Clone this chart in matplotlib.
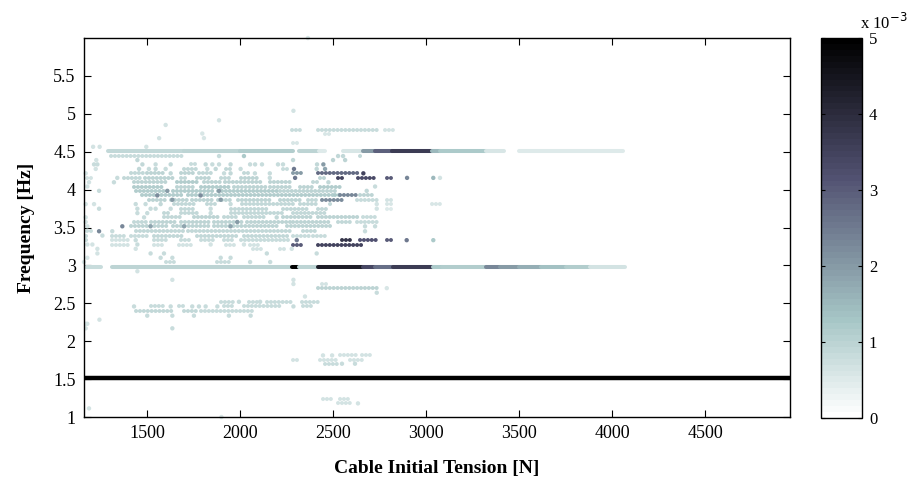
import matplotlib
matplotlib.use('Agg')
import matplotlib.pyplot as plt
from matplotlib.cm import ScalarMappable
from matplotlib.colors import Normalize
from matplotlib.ticker import FuncFormatter

plt.rcParams['font.family'] = ['Liberation Serif', 'DejaVu Serif']

# every entry: (frequency Hz, tension from N, tension to N, value x1e-3)
# a single point has the same start and end tension
band_450 = [(4.508, 1290, 1700, 0.9), (4.508, 1700, 2000, 1.0), (4.508, 2000, 2285, 1.1),
            (4.508, 2317, 2419, 1.0), (4.508, 2425, 2457, 0.5), (4.508, 2554, 2661, 0.6),
            (4.508, 2661, 2726, 2.0), (4.508, 2726, 2817, 2.9), (4.508, 2817, 3032, 3.6),
            (4.508, 3032, 3075, 1.5), (4.508, 3075, 3322, 1.2), (4.508, 3322, 3419, 0.6),
            (4.508, 3500, 4060, 0.5)]

band_300 = [(2.979, 1313, 2269, 1.0), (2.979, 2278, 2312, 5.0), (2.979, 2318, 2412, 1.0),
            (2.979, 2421, 2663, 4.3), (2.979, 2663, 2726, 3.4), (2.979, 2726, 2825, 2.7),
            (2.979, 2825, 3030, 3.6), (2.979, 3035, 3084, 1.2), (2.979, 3084, 3323, 1.1),
            (2.979, 3323, 3400, 2.3), (2.979, 3400, 3500, 2.0), (2.979, 3500, 3620, 1.7),
            (2.979, 3620, 3750, 1.4), (2.979, 3750, 3880, 1.1), (2.979, 3880, 4070, 0.7),
            (2.979, 1170, 1250, 0.8)]

band_152 = [(1.52, 1161, 4957, 5.0)]

cloud_upper = [
    (4.443, 1304, 1520, 0.8), (4.443, 1540, 1699, 0.8), (4.443, 1887, 1887, 0.8),
    (4.443, 2021, 2021, 1.2), (4.443, 2527, 2527, 0.9), (4.443, 2554, 2554, 0.9),
    (4.443, 2645, 2661, 0.9),
    (4.39, 1227, 1227, 0.7), (4.39, 1448, 1448, 0.9), (4.39, 2285, 2285, 0.9),
    (4.39, 2500, 2500, 1.0), (4.39, 2565, 2565, 1.0),
    (4.333, 1215, 1215, 0.8), (4.333, 1233, 1233, 0.8), (4.333, 1475, 1475, 0.9),
    (4.333, 1546, 1546, 0.8), (4.333, 1627, 1627, 0.9), (4.333, 1734, 1761, 0.8),
    (4.333, 1815, 1815, 0.9), (4.333, 1851, 1851, 0.8), (4.333, 1887, 1887, 0.8),
    (4.333, 1949, 1949, 0.9), (4.333, 2054, 2054, 0.8), (4.333, 2081, 2081, 0.8),
    (4.333, 2118, 2118, 0.8), (4.333, 2204, 2204, 0.8), (4.333, 2231, 2231, 0.8),
    (4.333, 2414, 2414, 0.9), (4.333, 2448, 2448, 2.0),
    (4.273, 1224, 1224, 0.7), (4.273, 1457, 1457, 0.9), (4.273, 1510, 1510, 0.8),
    (4.273, 1546, 1546, 0.9), (4.273, 1600, 1600, 0.8), (4.273, 1699, 1770, 0.9),
    (4.273, 1824, 1824, 0.8), (4.273, 1869, 1869, 0.9), (4.273, 1923, 1949, 0.9),
    (4.273, 2003, 2003, 0.8), (4.273, 2233, 2251, 0.8), (4.273, 2290, 2290, 2.5),
    (4.273, 2412, 2412, 0.9), (4.273, 2457, 2457, 1.8),
    (4.215, 1170, 1170, 0.7), (4.215, 1412, 1480, 0.9), (4.215, 1500, 1591, 1.0),
    (4.215, 1627, 1627, 0.9), (4.215, 1681, 1752, 1.0), (4.215, 1779, 1842, 0.9),
    (4.215, 1914, 1914, 0.8), (4.215, 1949, 1949, 0.9), (4.215, 2021, 2057, 0.9),
    (4.215, 2080, 2080, 0.8), (4.215, 2160, 2160, 0.8), (4.215, 2287, 2331, 2.0),
    (4.215, 2421, 2645, 2.8), (4.215, 2663, 2663, 3.5),
    (4.155, 1179, 1215, 0.7), (4.155, 1340, 1340, 0.8), (4.155, 1376, 1470, 0.9),
    (4.155, 1490, 1645, 1.0), (4.155, 1681, 1717, 0.9), (4.155, 1770, 1842, 1.0),
    (4.155, 1896, 1949, 0.9), (4.155, 2003, 2108, 1.0), (4.155, 2160, 2160, 0.8),
    (4.155, 2296, 2296, 2.5), (4.155, 2430, 2466, 1.0), (4.155, 2527, 2565, 3.5),
    (4.155, 2634, 2735, 3.3), (4.155, 2788, 2824, 3.0), (4.155, 2898, 2898, 2.3),
    (4.155, 3039, 3039, 1.5), (4.155, 3075, 3075, 0.7),
    (4.097, 1188, 1188, 0.7), (4.097, 1322, 1322, 0.8), (4.097, 1430, 1609, 1.0),
    (4.097, 1663, 1770, 1.1), (4.097, 1806, 1900, 1.0), (4.097, 1920, 2110, 1.0),
    (4.097, 2160, 2269, 1.0), (4.097, 2394, 2412, 0.9), (4.097, 2475, 2475, 0.9),
    (4.041, 1179, 1179, 0.7), (4.041, 1430, 1591, 1.1), (4.041, 1663, 1752, 1.0),
    (4.041, 1788, 1950, 1.1), (4.041, 1970, 2140, 1.0), (4.041, 2160, 2287, 1.0),
    (4.041, 2323, 2394, 1.0), (4.041, 2430, 2555, 1.1), (4.041, 2726, 2726, 0.8),
]

cloud_middle = [
    (3.984, 1242, 1242, 0.8), (3.984, 1439, 1620, 1.1), (3.984, 1640, 1860, 1.1),
    (3.984, 1880, 2200, 1.1), (3.984, 2215, 2448, 1.0), (3.984, 2466, 2520, 1.0),
    (3.984, 2681, 2681, 0.9), (3.984, 1609, 1609, 2.0), (3.984, 1887, 1887, 2.0),
    (3.923, 1475, 1700, 1.1), (3.923, 1720, 2502, 1.1), (3.923, 2511, 2536, 1.2),
    (3.923, 2538, 2636, 2.3), (3.923, 2645, 2726, 1.0), (3.923, 1555, 1555, 2.2),
    (3.923, 1788, 1788, 2.2),
    (3.866, 1510, 1600, 1.0), (3.866, 1630, 1720, 1.0), (3.866, 1740, 1860, 1.0),
    (3.866, 1880, 1960, 1.0), (3.866, 1990, 2160, 1.0), (3.866, 2215, 2323, 1.0),
    (3.866, 2367, 2412, 0.9), (3.866, 2439, 2547, 2.2), (3.866, 2627, 2735, 0.8),
    (3.866, 2788, 2824, 0.7), (3.866, 1636, 1636, 2.0), (3.866, 1896, 1896, 2.0),
    (3.809, 1170, 1170, 0.7), (3.809, 1215, 1215, 0.7), (3.809, 1439, 1439, 0.8),
    (3.809, 1492, 1492, 0.8), (3.809, 1573, 1573, 0.9), (3.809, 1645, 1752, 0.9),
    (3.809, 1824, 1878, 0.9), (3.809, 1949, 1949, 0.8), (3.809, 2012, 2287, 0.9),
    (3.809, 2323, 2412, 0.9), (3.809, 2484, 2502, 0.9), (3.809, 2735, 2735, 0.7),
    (3.809, 2788, 2824, 0.6), (3.809, 3030, 3084, 0.6),
    (3.748, 1242, 1242, 0.8), (3.748, 1448, 1448, 0.8), (3.748, 1519, 1519, 0.8),
    (3.748, 1546, 1546, 0.8), (3.748, 1627, 1627, 0.8), (3.748, 1681, 1752, 0.9),
    (3.748, 1842, 1842, 0.8), (3.748, 1949, 2162, 0.9), (3.748, 2233, 2377, 0.9),
    (3.748, 2421, 2475, 0.9), (3.748, 2735, 2735, 0.7), (3.748, 2789, 2825, 0.5),
    (3.69, 1448, 1448, 0.8), (3.69, 1501, 1501, 0.8), (3.69, 1591, 1627, 0.9),
    (3.69, 1681, 1770, 0.9), (3.69, 1842, 1842, 0.8), (3.69, 1949, 2233, 0.9),
    (3.69, 2287, 2466, 0.9),
    (3.634, 1170, 1170, 0.7), (3.634, 1484, 1484, 0.8), (3.634, 1591, 1681, 0.9),
    (3.634, 1752, 1896, 1.0), (3.634, 1914, 1985, 0.9), (3.634, 2021, 2144, 0.9),
    (3.634, 2197, 2197, 0.9), (3.634, 2233, 2394, 1.0), (3.634, 2421, 2645, 1.0),
    (3.634, 2663, 2735, 0.8),
    (3.573, 1170, 1170, 0.7), (3.573, 1430, 1501, 0.9), (3.573, 1519, 1663, 1.0),
    (3.573, 1681, 1842, 1.0), (3.573, 1860, 2021, 1.0), (3.573, 2039, 2269, 1.0),
    (3.573, 2287, 2484, 1.0), (3.573, 2528, 2592, 0.9), (3.573, 2627, 2735, 0.8),
    (3.573, 1985, 1985, 2.0),
]

cloud_lower = [
    (3.516, 1179, 1179, 0.7), (3.516, 1367, 1367, 2.3), (3.516, 1412, 1620, 1.0),
    (3.516, 1640, 1840, 1.0), (3.516, 1860, 2215, 1.0), (3.516, 2251, 2484, 1.0),
    (3.516, 2672, 2672, 0.8), (3.516, 2726, 2726, 0.8), (3.516, 1519, 1519, 1.8),
    (3.516, 1699, 1699, 1.8), (3.516, 1949, 1949, 1.8),
    (3.451, 1179, 1197, 0.8), (3.451, 1242, 1242, 2.3), (3.451, 1313, 1313, 0.8),
    (3.451, 1439, 1700, 0.9), (3.451, 1720, 2287, 0.9), (3.451, 2341, 2412, 0.9),
    (3.451, 2672, 2672, 0.8),
    (3.394, 1170, 1188, 0.8), (3.394, 1260, 1260, 0.8), (3.394, 1313, 1376, 0.8),
    (3.394, 1412, 1501, 0.8), (3.394, 1537, 1699, 0.9), (3.394, 1770, 1985, 0.9),
    (3.394, 2021, 2269, 0.9), (3.394, 2287, 2377, 0.8), (3.394, 2394, 2466, 0.8),
    (3.333, 1170, 1188, 0.8), (3.333, 1313, 1412, 0.7), (3.333, 1439, 1439, 0.8),
    (3.333, 1537, 1609, 0.8), (3.333, 1681, 1734, 0.8), (3.333, 1788, 1860, 0.8),
    (3.333, 1914, 1967, 0.8), (3.333, 2003, 2260, 0.8), (3.333, 2305, 2305, 2.5),
    (3.333, 2547, 2591, 3.8), (3.333, 2645, 2735, 3.2), (3.333, 2788, 2824, 3.0),
    (3.333, 2896, 2896, 2.5), (3.333, 3039, 3039, 1.2),
    (3.276, 1179, 1179, 0.7), (3.276, 1206, 1206, 0.7), (3.276, 1313, 1412, 0.7),
    (3.276, 1448, 1448, 0.8), (3.276, 1537, 1591, 0.7), (3.276, 1672, 1734, 0.7),
    (3.276, 1842, 1842, 0.7), (3.276, 1923, 1967, 0.7), (3.276, 2021, 2021, 0.7),
    (3.276, 2054, 2108, 0.7), (3.276, 2287, 2331, 3.0), (3.276, 2421, 2663, 3.5),
    (3.219, 1233, 1233, 0.7), (3.219, 1439, 1439, 0.7), (3.219, 2072, 2126, 0.7),
    (3.219, 2215, 2251, 0.7), (3.219, 2278, 2278, 0.7),
    (3.158, 1233, 1233, 0.7), (3.158, 1519, 1519, 0.8), (3.158, 1591, 1591, 0.8),
    (3.158, 2144, 2144, 0.8), (3.158, 2412, 2412, 0.8),
    (3.101, 1179, 1179, 0.6), (3.101, 1573, 1573, 0.8), (3.101, 1636, 1636, 0.8),
    (3.101, 1896, 1896, 0.8), (3.101, 1949, 1949, 0.8),
    (3.045, 1161, 1161, 0.6), (3.045, 1600, 1663, 0.8), (3.045, 1878, 1949, 0.8),
    (3.045, 2054, 2054, 0.8), (3.045, 2162, 2162, 0.8),
]

low_bands = [
    (2.923, 1448, 1448, 0.7), (2.81, 1636, 1636, 0.7), (2.81, 2287, 2287, 0.7),
    (2.755, 2287, 2287, 0.7), (2.755, 2439, 2466, 0.7), (2.70, 2421, 2735, 1.0),
    (2.70, 2789, 2789, 0.6), (2.64, 2735, 2735, 0.8), (2.59, 2349, 2349, 0.7),
    (2.52, 1896, 1967, 0.8), (2.52, 1994, 1994, 0.8), (2.52, 2048, 2090, 0.8),
    (2.52, 2108, 2108, 0.8), (2.52, 2144, 2287, 0.8), (2.52, 2332, 2421, 0.8),
    (2.459, 1430, 1430, 0.8), (2.459, 1519, 1591, 0.8), (2.459, 1627, 1627, 0.8),
    (2.459, 1672, 1699, 0.8), (2.459, 1743, 1743, 0.8), (2.459, 1779, 1779, 0.8),
    (2.459, 1815, 1815, 0.8), (2.459, 1878, 1878, 0.8), (2.459, 1914, 1967, 0.8),
    (2.459, 2021, 2215, 0.8), (2.459, 2287, 2287, 0.8), (2.459, 2341, 2394, 0.8),
    (2.398, 1439, 1645, 0.9), (2.398, 1699, 1770, 0.9), (2.398, 1788, 2081, 0.8),
    (2.337, 1501, 1501, 0.8), (2.337, 1636, 1636, 0.8), (2.337, 1752, 1752, 0.8),
    (2.337, 1940, 1940, 0.8), (2.337, 2057, 2057, 0.8),
    (1.813, 2446, 2446, 0.7), (1.813, 2495, 2495, 0.7), (1.813, 2538, 2635, 0.7),
    (1.813, 2656, 2710, 0.7), (1.756, 2285, 2312, 0.7), (1.756, 2430, 2522, 0.7),
    (1.756, 2591, 2661, 0.7), (1.703, 2457, 2522, 0.8), (1.703, 2548, 2548, 0.8),
    (1.703, 2618, 2618, 0.8), (1.232, 2446, 2500, 0.7), (1.232, 2538, 2581, 0.7),
    (1.18, 2527, 2607, 0.7), (1.18, 2634, 2634, 0.7),
]

top_cluster = [
    (5.04, 2287, 2287, 0.7), (4.79, 2278, 2331, 0.8), (4.79, 2421, 2735, 0.8),
    (4.79, 2780, 2824, 0.7), (4.74, 2457, 2484, 0.6), (4.615, 2287, 2323, 0.6),
    (6.0, 2365, 2365, 0.6), (1.0, 1900, 1900, 0.6),
]

lone_t = [1600, 1887, 1565, 1797, 1806, 1496, 1245, 1210, 1188, 1244, 1170, 1179, 1170, 1636]
lone_f = [4.853, 4.915, 4.679, 4.74, 4.68, 4.565, 4.565, 4.565, 1.114, 2.284, 2.23, 2.23, 2.17, 2.17]
lone_v = [0.7, 0.7, 0.7, 0.6, 0.6, 0.7, 0.7, 0.7, 0.7, 0.7, 0.7, 0.7, 0.7, 0.8]

x_ticks = [1500, 2000, 2500, 3000, 3500, 4000, 4500]
y_ticks = [1, 1.5, 2, 2.5, 3, 3.5, 4, 4.5, 5, 5.5]
cbar_ticks = [0, 1, 2, 3, 4, 5]

cmap = matplotlib.colormaps['bone_r'].resampled(64)
norm = Normalize(0, 5)

fig = plt.figure(figsize=(9.13, 4.79), dpi=100)
ax = fig.add_axes([0.0920, 0.1294, 0.7733, 0.7912])


def draw(segs, lw=2.9, beads=True):
    lines = [s for s in segs if s[2] > s[1]]
    dots = [s for s in segs if s[2] == s[1]]
    if lines:
        # rows of touching dots, drawn as a beaded line
        ls = (0, (0.02, 0.95)) if beads else 'solid'
        ax.hlines([s[0] for s in lines], [s[1] for s in lines], [s[2] for s in lines],
                  colors=[cmap(norm(s[3])) for s in lines], linewidth=lw,
                  linestyles=[ls], capstyle='round', zorder=2)
    if dots:
        ax.scatter([s[1] for s in dots], [s[0] for s in dots], c=[s[3] for s in dots],
                   cmap=cmap, norm=norm, s=10, linewidths=0, zorder=2, clip_on=False)


draw(cloud_upper)
draw(cloud_middle)
draw(cloud_lower)
draw(low_bands)
draw(top_cluster)
ax.scatter(lone_t, lone_f, c=lone_v, cmap=cmap, norm=norm, s=10, linewidths=0, zorder=2)
draw(band_450, beads=False)
draw(band_300, beads=False)
draw(band_152, lw=3.2, beads=False)

ax.set_xlim(1161, 4957)
ax.set_ylim(1, 6)
ax.set_xticks(x_ticks)
ax.set_yticks(y_ticks)
ax.yaxis.set_major_formatter(FuncFormatter(lambda v, p: '%g' % v))
ax.tick_params(direction='in', top=True, right=True, length=5, width=0.8,
               labelsize=13, pad=6)
for sp in ax.spines.values():
    sp.set_linewidth(1.0)
ax.set_xlabel('Cable Initial Tension [N]', fontsize=14, fontweight='bold', labelpad=13)
ax.set_ylabel('Frequency [Hz]', fontsize=14, fontweight='bold', labelpad=13)

cax = fig.add_axes([0.8992, 0.1273, 0.0449, 0.7933])
cb = fig.colorbar(ScalarMappable(norm=norm, cmap=cmap), cax=cax)
cb.set_ticks(cbar_ticks)
cb.set_ticklabels([str(t) for t in cbar_ticks])
cax.tick_params(direction='in', left=True, right=True, length=3, labelsize=12, pad=5)
cb.outline.set_linewidth(1.0)
cax.text(0.95, 1.012, r'x 10$^{-3}$', transform=cax.transAxes, fontsize=12,
         ha='left', va='bottom')

fig.savefig('out.png', dpi=100)
